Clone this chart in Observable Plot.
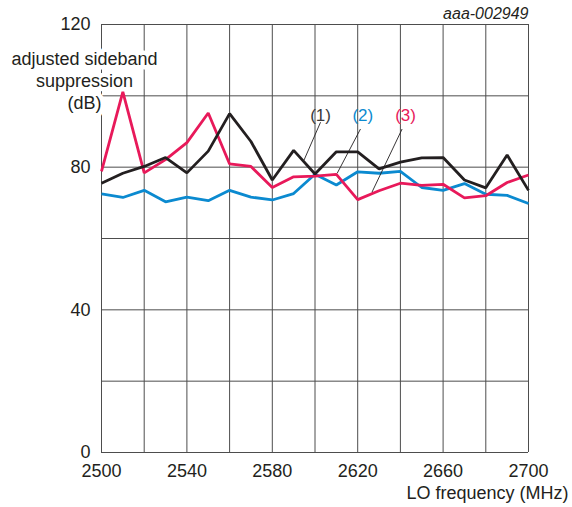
<!DOCTYPE html>
<html>
<head>
<meta charset="utf-8">
<script src="https://cdn.jsdelivr.net/npm/d3@7"></script>
<script src="https://cdn.jsdelivr.net/npm/@observablehq/plot@0.6"></script>
<style>
  html, body { margin: 0; padding: 0; background: #fff; }
  #chart svg { display: block; }
</style>
</head>
<body>
<div id="chart"></div>
<script>
// ---- data ----
const freq = [2500, 2510, 2520, 2530, 2540, 2550, 2560, 2570, 2580, 2590, 2600,
              2610, 2620, 2630, 2640, 2650, 2660, 2670, 2680, 2690, 2700];
const series1 = [75.5, 78.3, 80.2, 82.7, 78.4, 84.5, 95.0, 87.2, 76.4, 84.7, 78.1,
                 84.3, 84.3, 79.5, 81.4, 82.6, 82.7, 76.4, 74.2, 83.4, 73.5];
const series2 = [72.5, 71.5, 73.5, 70.3, 71.6, 70.6, 73.5, 71.6, 70.8, 72.6, 78.0,
                 75.0, 78.7, 78.3, 78.8, 74.3, 73.5, 75.4, 72.4, 72.1, 69.8];
const series3 = [78.8, 101.1, 78.4, 82.1, 86.9, 95.2, 80.9, 80.2, 74.3, 77.3, 77.5,
                 78.0, 70.9, 73.4, 75.5, 74.9, 75.2, 71.4, 72.0, 75.7, 77.8];

const seriesNames = ["(1)", "(2)", "(3)"];
const seriesColors = ["#231f20", "#0b8ad0", "#e8195a"];
const labelColors = ["#3a3a3a", "#0b8ad0", "#e8195a"];

const xTickLabels = [2500, 2540, 2580, 2620, 2660, 2700];
const yTickLabels = [0, 40, 80, 120];
const xGrid = [2500, 2520, 2540, 2560, 2580, 2600, 2620, 2640, 2660, 2680, 2700];
const yGrid = [0, 20, 40, 60, 80, 100, 120];

// callout labels and leader lines (data coordinates)
const labelX = [2602.6, 2622.4, 2642.4];
const labelY = [94.5, 94.5, 94.5];
const leaderX1 = [2602.6, 2621.3, 2640.8];
const leaderY1 = [92.6, 90.7, 90.7];
const leaderX2 = [2594.8, 2610.4, 2626.7];
const leaderY2 = [81.9, 78.3, 73.0];

const yLabel = "adjusted sideband\nsuppression\n(dB)";
const xLabel = "LO frequency (MHz)";
const codeLabel = "aaa-002949";

// ---- build tables ----
const allSeries = [series1, series2, series3];
const rows = [];
allSeries.forEach((vals, i) => {
  vals.forEach((v, j) => rows.push({f: freq[j], v, s: seriesNames[i]}));
});
const drawOrder = [1, 2, 0];
const callouts = seriesNames.map((n, i) => ({
  n, color: labelColors[i], x: labelX[i], y: labelY[i],
  x1: leaderX1[i], y1: leaderY1[i], x2: leaderX2[i], y2: leaderY2[i]
}));

const font = "'Liberation Sans', Arial, Helvetica, sans-serif";

const chart = Plot.plot({
  width: 572,
  height: 507,
  marginLeft: 101,
  marginRight: 44,
  marginTop: 24,
  marginBottom: 55,
  style: {fontFamily: font, fontSize: "18px", color: "#231f20", background: "#fff"},
  x: {domain: [2500, 2700]},
  y: {domain: [0, 120]},
  marks: [
    Plot.gridX(xGrid, {stroke: "#4d4d4d", strokeOpacity: 1, strokeWidth: 1}),
    Plot.gridY(yGrid, {stroke: "#4d4d4d", strokeOpacity: 1, strokeWidth: 1}),
    Plot.axisX({ticks: xTickLabels, tickSize: 0, tickPadding: 12, label: null,
                tickFormat: d => String(d), fontSize: 18}),
    Plot.axisY({ticks: yTickLabels, tickSize: 0, tickPadding: 11, label: null,
                tickFormat: d => String(d), fontSize: 18}),
    Plot.text([yLabel], {frameAnchor: "top-left", dx: -17, dy: 25, lineAnchor: "top",
                         textAnchor: "middle", lineHeight: 1.22, fontSize: 18,
                         fill: "#231f20", stroke: "#fff", strokeWidth: 9}),
    ...drawOrder.map(i => Plot.line(rows.filter(d => d.s === seriesNames[i]), {
      x: "f", y: "v", stroke: seriesColors[i], strokeWidth: 2.8,
      strokeLinejoin: "miter", strokeLinecap: "butt"
    })),
    Plot.link(callouts, {x1: "x1", y1: "y1", x2: "x2", y2: "y2",
                         stroke: "#231f20", strokeWidth: 0.9}),
    Plot.text(callouts, {x: "x", y: "y", text: "n", fill: "color", fontSize: 17,
                         textAnchor: "middle", lineAnchor: "middle"}),
    Plot.text([xLabel], {frameAnchor: "bottom-right", dx: 40, dy: 46, lineAnchor: "bottom",
                         textAnchor: "end", fontSize: 18, fill: "#231f20"}),
    Plot.text([codeLabel], {frameAnchor: "top-right", dy: -6, lineAnchor: "bottom",
                            textAnchor: "end", fontSize: 16, fontStyle: "italic",
                            fill: "#231f20"})
  ]
});
document.getElementById("chart").appendChild(chart);
</script>
</body>
</html>
